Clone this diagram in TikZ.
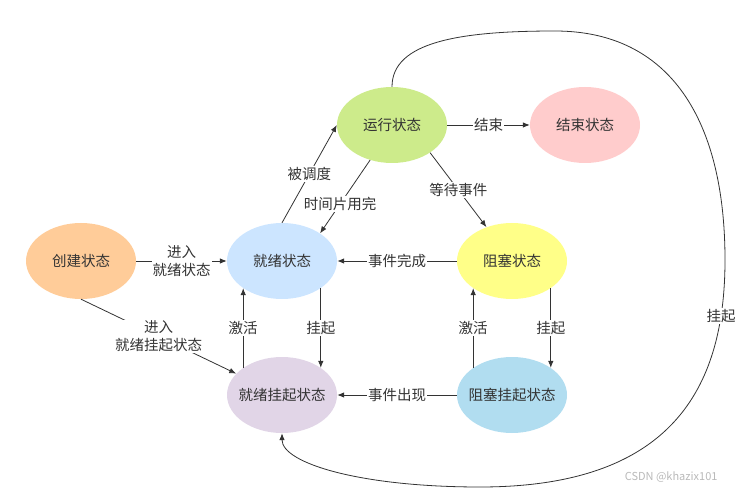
\documentclass[tikz,border=0pt]{standalone}
\usepackage{fontspec}
\newfontfamily\cjk{Noto Sans CJK SC}
\usetikzlibrary{shapes.geometric,arrows.meta}
\definecolor{txt}{HTML}{333333}
\definecolor{cCreate}{HTML}{FFCC99}
\definecolor{cReady}{HTML}{CCE5FF}
\definecolor{cRsus}{HTML}{E1D5E7}
\definecolor{cRun}{HTML}{CDEB8B}
\definecolor{cExit}{HTML}{FFCCCC}
\definecolor{cBlock}{HTML}{FFFF88}
\definecolor{cBsus}{HTML}{B1DDF0}
\begin{document}
\begin{tikzpicture}[x=1pt,y=1pt,
        state/.style={ellipse,minimum width=110pt,minimum height=76pt,inner ysep=0pt,inner xsep=-12pt,text=txt,font=\cjk\fontsize{14.5}{17}\selectfont},
        lbl/.style={fill=white,inner sep=1pt,text=txt,align=center,font=\cjk\fontsize{14.5}{18}\selectfont},
        conn/.style={draw=txt,line width=0.8pt,->},
        >={Latex[length=7pt,width=5.5pt]}]
        \useasboundingbox (0,0) rectangle (739,488);
        \node[state,fill=cCreate] (create) at (81,227) {创建状态};
        \node[state,fill=cReady] (ready) at (282,227) {就绪状态};
        \node[state,fill=cRsus] (rsus) at (282,93) {就绪挂起状态};
        \node[state,fill=cRun] (run) at (392,363) {运行状态};
        \node[state,fill=cExit] (exit) at (585,363) {结束状态};
        \node[state,fill=cBlock] (block) at (512,227) {阻塞状态};
        \node[state,fill=cBsus] (bsus) at (512,93) {阻塞挂起状态};
        \draw[conn] (create.east) -- node[lbl] {进入\\就绪状态} (ready.west);
        \draw[conn] (create.south) -- node[lbl] {进入\\就绪挂起状态} (rsus.155);
        \draw[conn] (ready.north) -- node[lbl] {被调度} (run.west);
        \draw[conn] (run.238) -- node[lbl,pos=0.6] {时间片用完} (ready.36);
        \draw[conn] (run.-36) -- node[lbl] {等待事件} (block.127);
        \draw[conn] (run.east) -- node[lbl] {结束} (exit.west);
        \draw[conn] (block.west) -- node[lbl] {事件完成} (ready.east);
        \draw[conn] (bsus.west) -- node[lbl] {事件出现} (rsus.east);
        \draw[conn] (rsus.145) -- node[lbl] {激活} (ready.215);
        \draw[conn] (ready.-35) -- node[lbl] {挂起} (rsus.35);
        \draw[conn] (bsus.145) -- node[lbl] {激活} (block.215);
        \draw[conn] (block.-35) -- node[lbl] {挂起} (bsus.35);
        % big loop from running back to ready-suspended
        \coordinate (ctop) at (555,457);
        \coordinate (cright) at (725,228);
        \coordinate (cbot) at (480,1);
        \draw[conn] (run.north) .. controls +(0,45) and +(-95,0) .. (ctop)
            .. controls +(115,0) and +(0,140) .. (cright)
            .. controls +(0,-130) and +(190,0) .. node[lbl,pos=0.15] {挂起} (cbot)
            .. controls +(-120,0) and +(0,-30) .. (rsus.south);
        \node[anchor=east,text=gray!55,font=\cjk\fontsize{11}{13}\selectfont] (mark) at (721,11) {CSDN @khazix101};
    \end{tikzpicture}
\end{document}
